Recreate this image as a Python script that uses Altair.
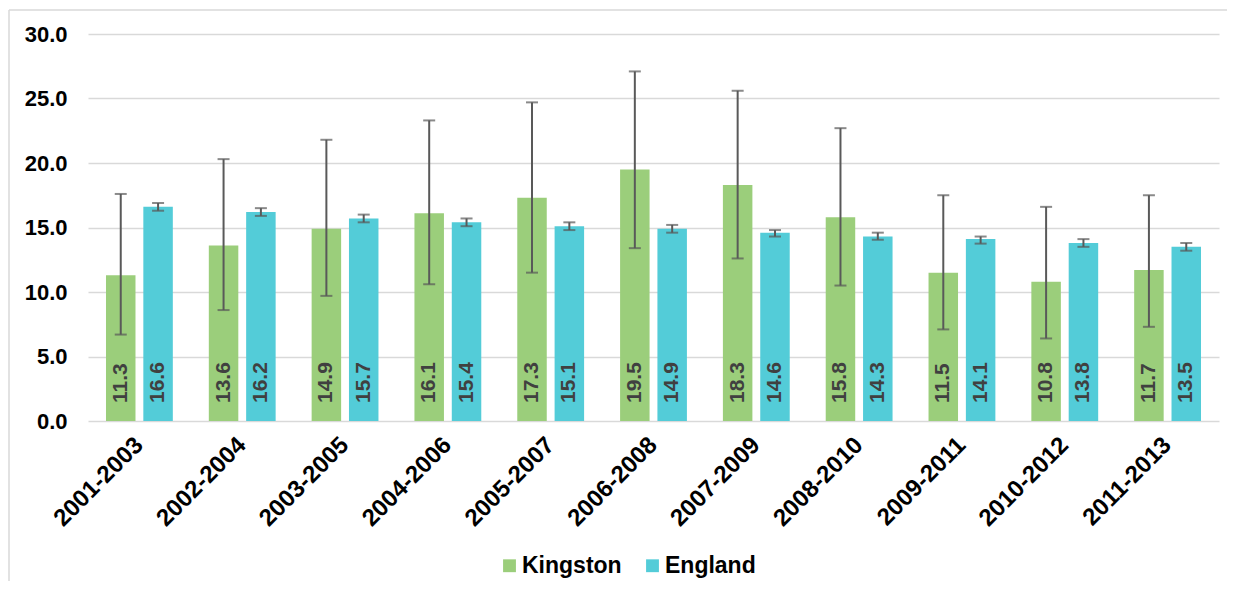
import altair as alt
import pandas as pd

periods = ["2001-2003", "2002-2004", "2003-2005", "2004-2006", "2005-2007", "2006-2008",
           "2007-2009", "2008-2010", "2009-2011", "2010-2012", "2011-2013"]
series = ["Kingston", "England"]

kingston = [11.3, 13.6, 14.9, 16.1, 17.3, 19.5, 18.3, 15.8, 11.5, 10.8, 11.7]
kingston_lo = [6.7, 8.6, 9.7, 10.6, 11.5, 13.4, 12.6, 10.5, 7.1, 6.4, 7.3]
kingston_hi = [17.6, 20.3, 21.8, 23.3, 24.7, 27.1, 25.6, 22.7, 17.5, 16.6, 17.5]

england = [16.6, 16.2, 15.7, 15.4, 15.1, 14.9, 14.6, 14.3, 14.1, 13.8, 13.5]
england_lo = [16.3, 15.9, 15.4, 15.1, 14.8, 14.6, 14.3, 14.05, 13.75, 13.5, 13.2]
england_hi = [16.9, 16.5, 16.0, 15.7, 15.4, 15.2, 14.8, 14.6, 14.3, 14.1, 13.8]

colors = ["#9BCE7B", "#53CCD8"]

rows = []
for s, vals, los, his in [("Kingston", kingston, kingston_lo, kingston_hi),
                          ("England", england, england_lo, england_hi)]:
    for p, v, lo, hi in zip(periods, vals, los, his):
        rows.append({"period": p, "series": s, "value": v, "lo": lo, "hi": hi, "zero": 0})
df = pd.DataFrame(rows)

FONT = "Liberation Sans"

x_enc = alt.X("period:N", sort=periods,
              scale=alt.Scale(paddingInner=0.35, paddingOuter=0.175),
              axis=alt.Axis(title=None, labelAngle=-45, labelAlign="right", labelBaseline="middle",
                            labelFontSize=24, labelFontWeight="bold", labelColor="#000000",
                            labelFont=FONT, labelPadding=20, ticks=False, domain=False, grid=False))
xo_enc = alt.XOffset("series:N", sort=series, scale=alt.Scale(paddingInner=0.21, paddingOuter=0))
y_scale = alt.Scale(domain=[0, 30])
y_axis = alt.Axis(title=None, values=[0, 5, 10, 15, 20, 25, 30], format=".1f",
                  labelFontSize=22, labelFontWeight="bold", labelColor="#000000", labelFont=FONT,
                  labelPadding=21, ticks=False, domain=False, grid=True,
                  gridColor="#D9D9D9", gridWidth=1.5)

frame_data = alt.Data(values=[{"a": 1}])
border_top = alt.Chart(frame_data).mark_rule(color="#D9D9D9", strokeWidth=1.5).encode(
    x=alt.value(-79), x2=alt.value(1139), y=alt.value(-24))
border_left = alt.Chart(frame_data).mark_rule(color="#D9D9D9", strokeWidth=1.5).encode(
    x=alt.value(-79), y=alt.value(-24), y2=alt.value(547))

bars = alt.Chart(df).mark_bar().encode(
    x=x_enc, xOffset=xo_enc,
    y=alt.Y("value:Q", scale=y_scale, axis=y_axis),
    color=alt.Color("series:N", sort=series,
                    scale=alt.Scale(domain=series, range=colors),
                    legend=alt.Legend(title=None, orient="none", legendX=410, legendY=520,
                                      direction="horizontal", symbolType="square",
                                      symbolSize=165, symbolStrokeWidth=0,
                                      labelFontSize=23, labelFontWeight="bold",
                                      labelColor="#000000", labelFont=FONT,
                                      labelOffset=1, columnPadding=19, padding=0)),
)

rules = alt.Chart(df).mark_rule(color="#595959", strokeWidth=2).encode(
    x=x_enc, xOffset=xo_enc,
    y=alt.Y("lo:Q", scale=y_scale, axis=y_axis), y2="hi:Q")

caps_hi = alt.Chart(df).mark_tick(orient="horizontal", size=12, thickness=2, color="#595959").encode(
    x=x_enc, xOffset=xo_enc, y=alt.Y("hi:Q", scale=y_scale, axis=y_axis))
caps_lo = alt.Chart(df).mark_tick(orient="horizontal", size=12, thickness=2, color="#595959").encode(
    x=x_enc, xOffset=xo_enc, y=alt.Y("lo:Q", scale=y_scale, axis=y_axis))

labels = alt.Chart(df).mark_text(angle=270, align="left", baseline="middle", dx=18,
                                 fontSize=21, fontWeight="bold", color="#404040", font=FONT).encode(
    x=x_enc, xOffset=xo_enc,
    y=alt.Y("zero:Q", scale=y_scale, axis=y_axis),
    text=alt.Text("value:Q", format=".1f"))

chart = alt.layer(border_top, border_left, bars, rules, caps_hi, caps_lo, labels).properties(
    width=1131, height=387,
    autosize=alt.AutoSizeParams(type="none"),
    padding={"left": 80, "top": 26, "right": 8, "bottom": 160},
).configure(background="white").configure_view(stroke=None)

chart.save("out.html", embed_options={"renderer": "svg", "actions": False})
